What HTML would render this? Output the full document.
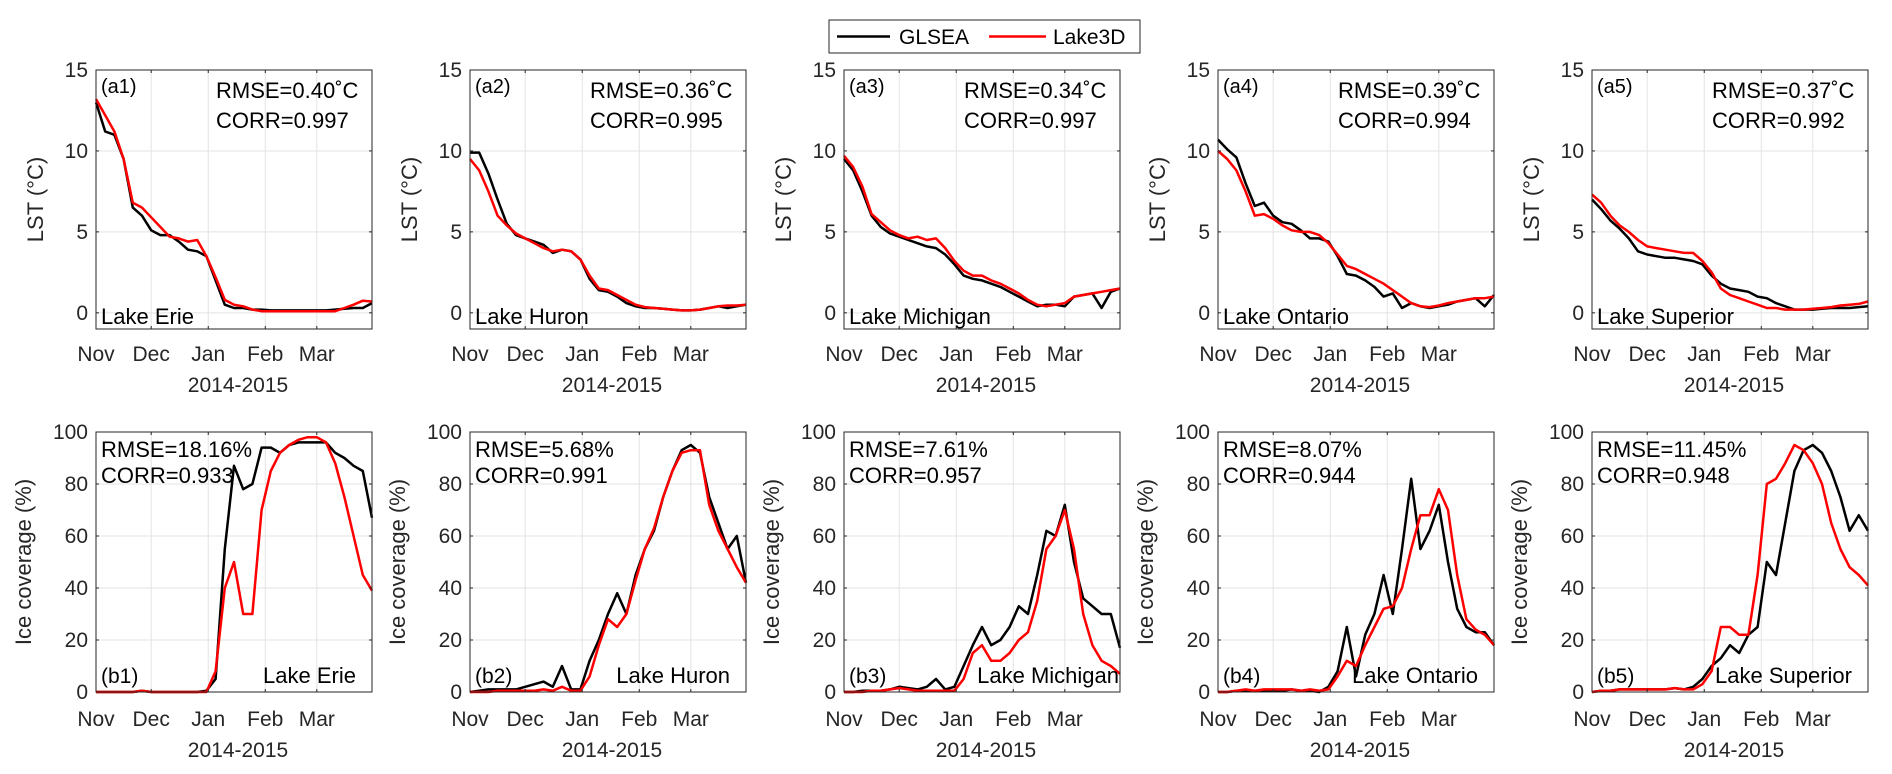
<!DOCTYPE html>
<html><head><meta charset="utf-8">
<style>
html,body{margin:0;padding:0;background:#fff;}
svg{display:block;font-family:"Liberation Sans",Arial,sans-serif;}
</style></head>
<body>
<svg id="fig" width="1892" height="774" viewBox="0 0 1892 774" xmlns="http://www.w3.org/2000/svg">
  <g>
    <rect x="829" y="20" width="311" height="33" fill="#fff" stroke="#262626" stroke-width="1"/>
    <line x1="837" y1="36.5" x2="890" y2="36.5" stroke="#000" stroke-width="2.5"/>
    <text x="899" y="44" font-size="21" fill="#000">GLSEA</text>
    <line x1="989" y1="36.5" x2="1046" y2="36.5" stroke="#f00" stroke-width="2.5"/>
    <text x="1053" y="44" font-size="21" fill="#000">Lake3D</text>
  </g>
</svg>
<script>
const days = [0,5,10,15,20,25,30,35,40,45,50,55,60,65,70,75,80,85,90,95,100,105,110,115,120,125,130,135,140,145,150];
const monthTicks = [0,30,61,92,120];
const monthLabels = ["Nov","Dec","Jan","Feb","Mar"];
const lakes = ["Lake Erie","Lake Huron","Lake Michigan","Lake Ontario","Lake Superior"];
const lstTicks = [0,5,10,15];
const iceTicks = [0,20,40,60,80,100];
const lstRmse = ["0.40","0.36","0.34","0.39","0.37"];
const lstCorr = ["0.997","0.995","0.997","0.994","0.992"];
const iceRmse = ["18.16","5.68","7.61","8.07","11.45"];
const iceCorr = ["0.933","0.991","0.957","0.944","0.948"];

const lstGlsea = [
 [13,11.2,11,9.5,6.5,6,5.1,4.8,4.8,4.4,3.9,3.8,3.5,2,0.5,0.3,0.3,0.2,0.2,0.15,0.15,0.15,0.15,0.15,0.15,0.15,0.2,0.25,0.3,0.3,0.6],
 [9.9,9.9,8.6,7.0,5.5,4.8,4.6,4.4,4.2,3.7,3.9,3.8,3.3,2.1,1.4,1.3,1.0,0.6,0.4,0.3,0.3,0.25,0.2,0.15,0.15,0.2,0.3,0.4,0.3,0.4,0.5],
 [9.5,8.8,7.5,6,5.3,4.9,4.7,4.5,4.3,4.1,4.0,3.6,3.0,2.3,2.1,2.0,1.8,1.6,1.3,1.0,0.7,0.4,0.5,0.5,0.4,1.0,1.1,1.2,0.3,1.3,1.5],
 [10.7,10.1,9.6,8.0,6.6,6.8,6.0,5.6,5.5,5.1,4.6,4.6,4.4,3.5,2.4,2.3,2.0,1.6,1.0,1.2,0.3,0.6,0.4,0.3,0.4,0.5,0.7,0.8,0.9,0.4,1.1],
 [7.0,6.4,5.7,5.2,4.6,3.8,3.6,3.5,3.4,3.4,3.3,3.2,3.0,2.3,1.8,1.5,1.4,1.3,1.0,0.9,0.6,0.4,0.2,0.2,0.2,0.25,0.3,0.3,0.3,0.35,0.4]
];
const lstLake3d = [
 [13.2,12.2,11.2,9.5,6.8,6.5,5.9,5.3,4.7,4.6,4.4,4.5,3.5,2.2,0.8,0.5,0.4,0.2,0.1,0.1,0.1,0.1,0.1,0.1,0.1,0.1,0.1,0.3,0.5,0.75,0.7],
 [9.5,8.8,7.5,6.0,5.4,4.9,4.6,4.3,4.0,3.8,3.9,3.8,3.3,2.3,1.5,1.4,1.1,0.8,0.5,0.35,0.3,0.25,0.2,0.15,0.15,0.2,0.3,0.4,0.45,0.45,0.5],
 [9.7,9.0,7.8,6.1,5.6,5.1,4.8,4.6,4.7,4.5,4.6,4.0,3.2,2.6,2.3,2.3,2.0,1.8,1.5,1.2,0.8,0.5,0.4,0.5,0.6,1.0,1.1,1.2,1.3,1.4,1.5],
 [10,9.5,8.8,7.5,6.0,6.1,5.8,5.4,5.1,5.0,5.0,4.8,4.3,3.6,2.9,2.7,2.4,2.1,1.8,1.4,1.0,0.6,0.4,0.35,0.45,0.6,0.7,0.8,0.9,0.9,1.0],
 [7.3,6.8,6.0,5.4,5.0,4.5,4.1,4.0,3.9,3.8,3.7,3.7,3.2,2.5,1.5,1.1,0.9,0.7,0.5,0.3,0.3,0.2,0.2,0.2,0.25,0.3,0.35,0.45,0.5,0.55,0.7]
];
const iceGlsea = [
 [0,0,0,0,0,0.5,0,0,0,0,0,0,0.5,5,55,87,78,80,94,94,92,95,96,96,96,96,92,90,87,85,67],
 [0,0.5,1,1,1,1,2,3,4,2,10,1,1,12,20,30,38,30,45,55,62,75,85,93,95,92,75,65,55,60,42],
 [0,0,0.5,0.5,0.5,1,2,1.5,1,2,5,1,2,10,18,25,18,20,25,33,30,45,62,60,72,50,36,33,30,30,17],
 [0,0,0.5,0.5,0.5,0.5,0.5,0.5,1,0.5,0.5,0,2,8,25,6,22,30,45,30,55,82,55,62,72,50,32,25,23,23,18],
 [0,0.5,0.5,1,1,1,1,1,1,1.5,1,2,5,10,13,18,15,22,25,50,45,65,85,93,95,92,85,75,62,68,62]
];
const iceLake3d = [
 [0,0,0,0,0,0.5,0,0,0,0,0,0,0,8,40,50,30,30,70,85,92,95,97,98,98,96,88,75,60,45,39],
 [0,0,0,0.5,0.5,0.5,0.5,0.5,1,0.5,2,0.5,0.5,6,18,28,25,30,43,55,63,75,85,92,93,93,72,62,55,48,42],
 [0,0,0,0.5,0.5,1,1.5,1,0.5,0.5,0.5,0.5,0.5,5,15,18,12,12,15,20,23,35,55,60,70,55,30,18,12,10,7],
 [0,0,0.5,1,0.5,1,1,1,1,0.5,1,0.5,1,6,12,10,18,25,32,33,40,55,68,68,78,70,45,28,24,22,18],
 [0,0.5,0.5,1,1,1,1,1,1,1.5,1,1,3,8,25,25,22,22,45,80,82,88,95,93,88,80,65,55,48,45,41]
];

const NS = "http://www.w3.org/2000/svg";
const svg = document.getElementById("fig");
function mk(tag, attrs, parent, text){
  const e = document.createElementNS(NS, tag);
  for (const k in attrs) e.setAttribute(k, attrs[k]);
  if (text !== undefined) e.textContent = text;
  parent.appendChild(e);
  return e;
}
const PW = 276, X0 = 96, DX = 374;
const rows = [
  {top:70, bot:329, ymin:-1, ymax:15, ticks:lstTicks, ylab:"LST (\u00B0C)", ylabX:43, tickY:361, yearY:392, g:lstGlsea, r:lstLake3d, key:"lst"},
  {top:432, bot:692, ymin:0, ymax:100, ticks:iceTicks, ylab:"Ice coverage (%)", ylabX:31, tickY:726, yearY:757, g:iceGlsea, r:iceLake3d, key:"ice"}
];

rows.forEach((row, ri) => {
  for (let p = 0; p < 5; p++) {
    const L = X0 + p*DX, R = L + PW;
    const xs = d => L + (d - 0) / 150 * PW;
    const ys = v => row.bot - (v - row.ymin) / (row.ymax - row.ymin) * (row.bot - row.top);
    const g = mk("g", {}, svg);
    
    
    monthTicks.forEach(m => {
      const gl = mk("line", {x1:xs(m), x2:xs(m), y1:row.top, y2:row.bot, stroke:"#e3e3e3", "stroke-width":1}, g);
      
      
    });
    row.ticks.forEach(t => {
      const gl = mk("line", {x1:L, x2:R, y1:ys(t), y2:ys(t), stroke:"#e3e3e3", "stroke-width":1}, g);
      
      
    });
    [[row.g[p], "#000", "glsea"], [row.r[p], "#f00", "lake3d"]].forEach(([vals, col, nm]) => {
      const pts = days.map((d, i) => xs(d).toFixed(1) + "," + ys(vals[i]).toFixed(1)).join(" ");
      const pl = mk("polyline", {points:pts, fill:"none", stroke:col, "stroke-width":2.5, "stroke-linejoin":"round"}, g);
      
      
    });
    const box = mk("rect", {x:L, y:row.top, width:PW, height:row.bot-row.top, fill:"none", stroke:"#262626", "stroke-width":1}, g);
    
    
    monthTicks.forEach((m, i) => {
      mk("line", {x1:xs(m), x2:xs(m), y1:row.bot, y2:row.bot-3, stroke:"#262626"}, g);
      mk("line", {x1:xs(m), x2:xs(m), y1:row.top, y2:row.top+3, stroke:"#262626"}, g);
      const tl = mk("text", {x:xs(m), y:row.tickY, "font-size":21, fill:"#262626", "text-anchor":"middle"}, g, monthLabels[i]);
      
      
    });
    row.ticks.forEach(t => {
      mk("line", {x1:L, x2:L+3, y1:ys(t), y2:ys(t), stroke:"#262626"}, g);
      mk("line", {x1:R, x2:R-3, y1:ys(t), y2:ys(t), stroke:"#262626"}, g);
      const tl = mk("text", {x:L-8, y:ys(t)+7, "font-size":21, fill:"#262626", "text-anchor":"end"}, g, String(t));
      
      
    });
    const yr = mk("text", {x:L+PW/2+4, y:row.yearY, "font-size":21, fill:"#262626", "text-anchor":"middle"}, g, "2014-2015");
    
    
    const ylx = row.ylabX + p*DX, yly = (row.top+row.bot)/2;
    const yl = mk("text", {x:ylx, y:yly, "font-size":22, fill:"#262626", "text-anchor":"middle", transform:"rotate(-90 "+ylx+" "+yly+")"}, g, row.ylab);
    
    
    if (ri === 0) {
      const a = mk("text", {x:L+5, y:row.top+23, "font-size":20, fill:"#000"}, g, "(a" + (p+1) + ")");
      
      
      const rm = mk("text", {x:L+120, y:row.top+28, "font-size":22, fill:"#000"}, g, "RMSE=" + lstRmse[p] + "\u02DAC");
      
      
      const cr = mk("text", {x:L+120, y:row.top+58, "font-size":22, fill:"#000"}, g, "CORR=" + lstCorr[p]);
      
      
      const lk = mk("text", {x:L+5, y:row.bot-5, "font-size":22, fill:"#000"}, g, lakes[p]);
      
      
    } else {
      const rm = mk("text", {x:L+5, y:row.top+25, "font-size":22, fill:"#000"}, g, "RMSE=" + iceRmse[p] + "%");
      
      
      const cr = mk("text", {x:L+5, y:row.top+51, "font-size":22, fill:"#000"}, g, "CORR=" + iceCorr[p]);
      
      
      const a = mk("text", {x:L+5, y:row.bot-9, "font-size":21, fill:"#000"}, g, "(b" + (p+1) + ")");
      
      
      const lk = mk("text", {x:R-(p===2?1:16), y:row.bot-9, "font-size":22, fill:"#000", "text-anchor":"end"}, g, lakes[p]);
      
      
    }
  }
});
</script>
</body></html>
